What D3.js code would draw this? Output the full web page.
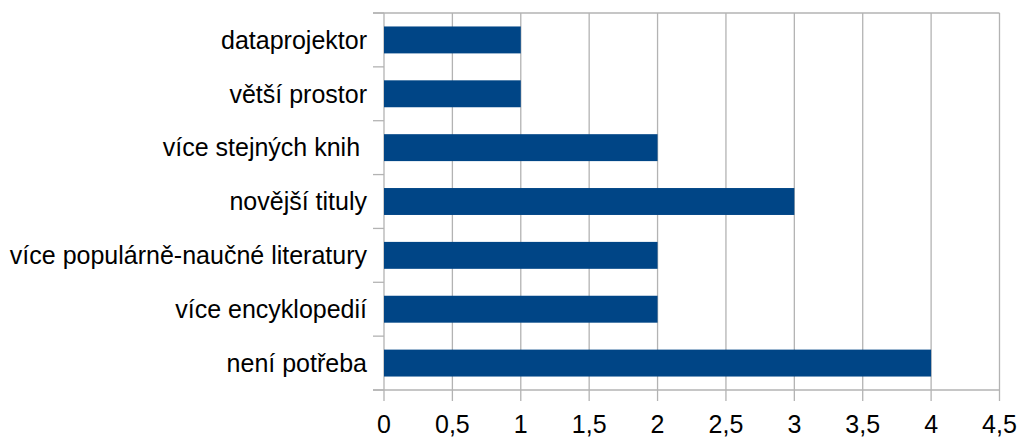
<!DOCTYPE html>
<html>
<head>
<meta charset="utf-8">
<script src="https://cdn.jsdelivr.net/npm/d3@7"></script>
<style>
  body { margin: 0; background: #fff; }
  text { font-family: "Liberation Sans", Arial, sans-serif; fill: #000; }
</style>
</head>
<body>
<svg id="chart" width="1020" height="437"></svg>
<script>
const categories = [
  "dataprojektor",
  "větší prostor",
  "více stejných knih ",
  "novější tituly",
  "více populárně-naučné literatury",
  "více encyklopedií",
  "není potřeba"
];
const values = [1, 1, 2, 3, 2, 2, 4];
const xTicks = [0, 0.5, 1, 1.5, 2, 2.5, 3, 3.5, 4, 4.5];

const svg = d3.select("#chart");
const plotLeft = 384, plotRight = 999.5, plotTop = 13, plotBottom = 390;
const grey = "#b3b3b3";

let x = d3.scaleLinear().domain([0, 4.5]).range([plotLeft, plotRight]);
let y = d3.scaleBand().domain(categories).range([plotTop, plotBottom]).paddingInner(0.5).paddingOuter(0.25);
let band = d3.scaleBand().domain(categories).range([plotTop, plotBottom]);

// vertical grid lines
svg.append("g")
  .selectAll("line")
  .data(xTicks)
  .join("line")
  .attr("x1", d => x(d)).attr("x2", d => x(d))
  .attr("y1", plotTop).attr("y2", plotBottom + 11)
  .attr("stroke", grey).attr("stroke-width", 1.3);

// top border
svg.append("line")
  .attr("x1", plotLeft - 11).attr("x2", plotRight)
  .attr("y1", plotTop).attr("y2", plotTop)
  .attr("stroke", grey).attr("stroke-width", 1.3);

// left ticks at band boundaries
let bounds = categories.map(c => band(c)).concat([plotBottom]);
svg.append("g")
  .selectAll("line")
  .data(bounds)
  .join("line")
  .attr("x1", plotLeft - 11).attr("x2", plotLeft)
  .attr("y1", d => d).attr("y2", d => d)
  .attr("stroke", grey).attr("stroke-width", 1.3);

// bottom axis line
svg.append("line")
  .attr("x1", plotLeft - 11).attr("x2", plotRight)
  .attr("y1", plotBottom).attr("y2", plotBottom)
  .attr("stroke", grey).attr("stroke-width", 1.3);

// bars
svg.append("g")
  .selectAll("rect")
  .data(values)
  .join("rect")
  .attr("x", x(0))
  .attr("y", (d, i) => y(categories[i]))
  .attr("width", d => x(d) - x(0))
  .attr("height", y.bandwidth())
  .attr("fill", "#004586");

// x tick labels
svg.append("g")
  .selectAll("text")
  .data(xTicks)
  .join("text")
  .attr("x", d => x(d))
  .attr("y", 433)
  .attr("text-anchor", "middle")
  .style("font-size", "25px")
  .text(d => String(d).replace(".", ","));

// category labels
svg.append("g")
  .selectAll("text")
  .data(categories)
  .join("text")
  .attr("x", 367)
  .attr("y", d => band(d) + band.bandwidth() / 2)
  .attr("dy", "0.35em")
  .attr("text-anchor", "end")
  .attr("xml:space", "preserve")
  .style("white-space", "pre")
  .style("font-size", "25px")
  .text(d => d);
</script>
</body>
</html>
